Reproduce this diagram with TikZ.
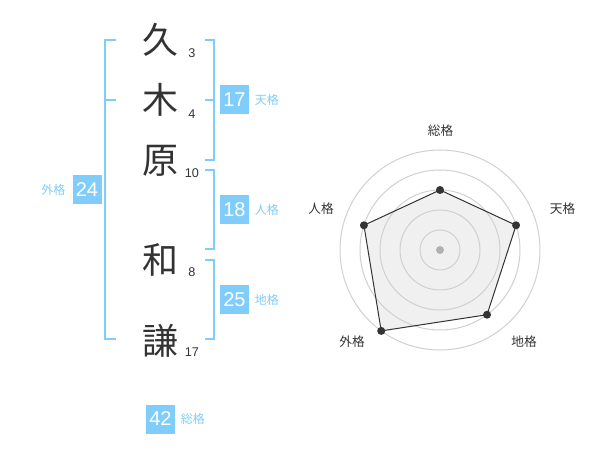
\documentclass[tikz,border=0pt]{standalone}
\usepackage{fontspec}
\setmainfont{Liberation Sans}
\newfontfamily\jp{Noto Sans CJK JP}
\usetikzlibrary{positioning}
\definecolor{kakusky}{RGB}{128,204,250}
\definecolor{kakuink}{RGB}{51,51,51}
\definecolor{kakuring}{RGB}{208,208,208}
\definecolor{kakufill}{RGB}{240,240,240}
\begin{document}
\begin{tikzpicture}[x=0.75pt,y=-0.75pt,
	kanji/.style={text=kakuink,font=\jp\fontsize{27}{27}\selectfont,inner sep=0pt},
	strokes/.style={text=kakuink,font=\fontsize{9.5}{9.5}\selectfont,inner sep=0pt},
	badge/.style={fill=kakusky,text=white,minimum size=21.75pt,inner sep=0pt,font=\fontsize{15}{15}\selectfont},
	kakuname/.style={text=kakusky,font=\jp\fontsize{9}{9}\selectfont,inner sep=0pt},
	bracket/.style={draw=kakusky,line width=1.5pt},
	axisname/.style={text=kakuink,font=\jp\fontsize{9.5}{9.5}\selectfont,inner sep=0pt},
	ring/.style={draw=kakuring,line width=0.75pt},
	dot/.style={circle,fill=kakuink,inner sep=0pt,minimum size=6pt}]
	\useasboundingbox (0,0) rectangle (600,470);
	% name and stroke counts
	\node[kanji] (K1) at (160,40) {久};
	\node[kanji] (K2) at (160,100) {木};
	\node[kanji] (K3) at (160,161) {原};
	\node[kanji] (K4) at (160,260) {和};
	\node[kanji] (K5) at (160,341) {謙};
	\node[strokes] (S1) at (192,53) {3};
	\node[strokes] (S2) at (192,114) {4};
	\node[strokes] (S3) at (192,173) {10};
	\node[strokes] (S4) at (192,272) {8};
	\node[strokes] (S5) at (192,352) {17};
	
	% brackets
	\draw[bracket] (116,40) -- (105,40) -- (105,339) -- (116,339);
	\draw[bracket] (105,100) -- (116,100);
	\draw[bracket] (205,40) -- (214,40) -- (214,160) -- (205,160);
	\draw[bracket] (214,100) -- (205,100);
	\draw[bracket] (205,170) -- (214,170) -- (214,249) -- (205,249);
	\draw[bracket] (205,260) -- (214,260) -- (214,339) -- (205,339);
	
	% badges
	\node[badge] (gai) at (87,190) {24};
	\node[badge] (ten) at (234.5,100) {17};
	\node[badge] (jin) at (234.5,210) {18};
	\node[badge] (chi) at (234.5,300) {25};
	\node[badge] (sou) at (160.5,419) {42};
	\node[kakuname, left=5pt of gai] (gaiL) {外格};
	\node[kakuname, right=4pt of ten] (tenL) {天格};
	\node[kakuname, right=4pt of jin] (jinL) {人格};
	\node[kakuname, right=4pt of chi] (chiL) {地格};
	\node[kakuname, right=4pt of sou] (souL) {総格};
	
	% radar
	\coordinate (O) at (440,250);
	\path (O) ++(-90:60) coordinate (vSou);
	\path (O) ++(-18:80) coordinate (vTen);
	\path (O) ++(54:80) coordinate (vChi);
	\path (O) ++(126:100) coordinate (vGai);
	\path (O) ++(198:80) coordinate (vJin);
	\fill[kakufill] (vSou) -- (vTen) -- (vChi) -- (vGai) -- (vJin) -- cycle;
	\foreach \r in {20,40,...,100}{
		\draw[ring] (O) circle[radius=\r*0.75pt];
	}
	\node[circle,fill=kakuring!85!black,inner sep=0pt,minimum size=6pt] (hub) at (O) {};
	\draw[kakuink,line width=0.75pt] (vSou) -- (vTen) -- (vChi) -- (vGai) -- (vJin) -- cycle;
	\foreach \v in {Sou,Ten,Chi,Gai,Jin}{
		\node[dot] (d\v) at (v\v) {};
	}
	\node[axisname] (aSou) at (440.5,130.5) {総格};
	\node[axisname] (aTen) at (562.5,209) {天格};
	\node[axisname] (aChi) at (524,342) {地格};
	\node[axisname] (aGai) at (352,342) {外格};
	\node[axisname] (aJin) at (321,209) {人格};
\end{tikzpicture}
\end{document}
